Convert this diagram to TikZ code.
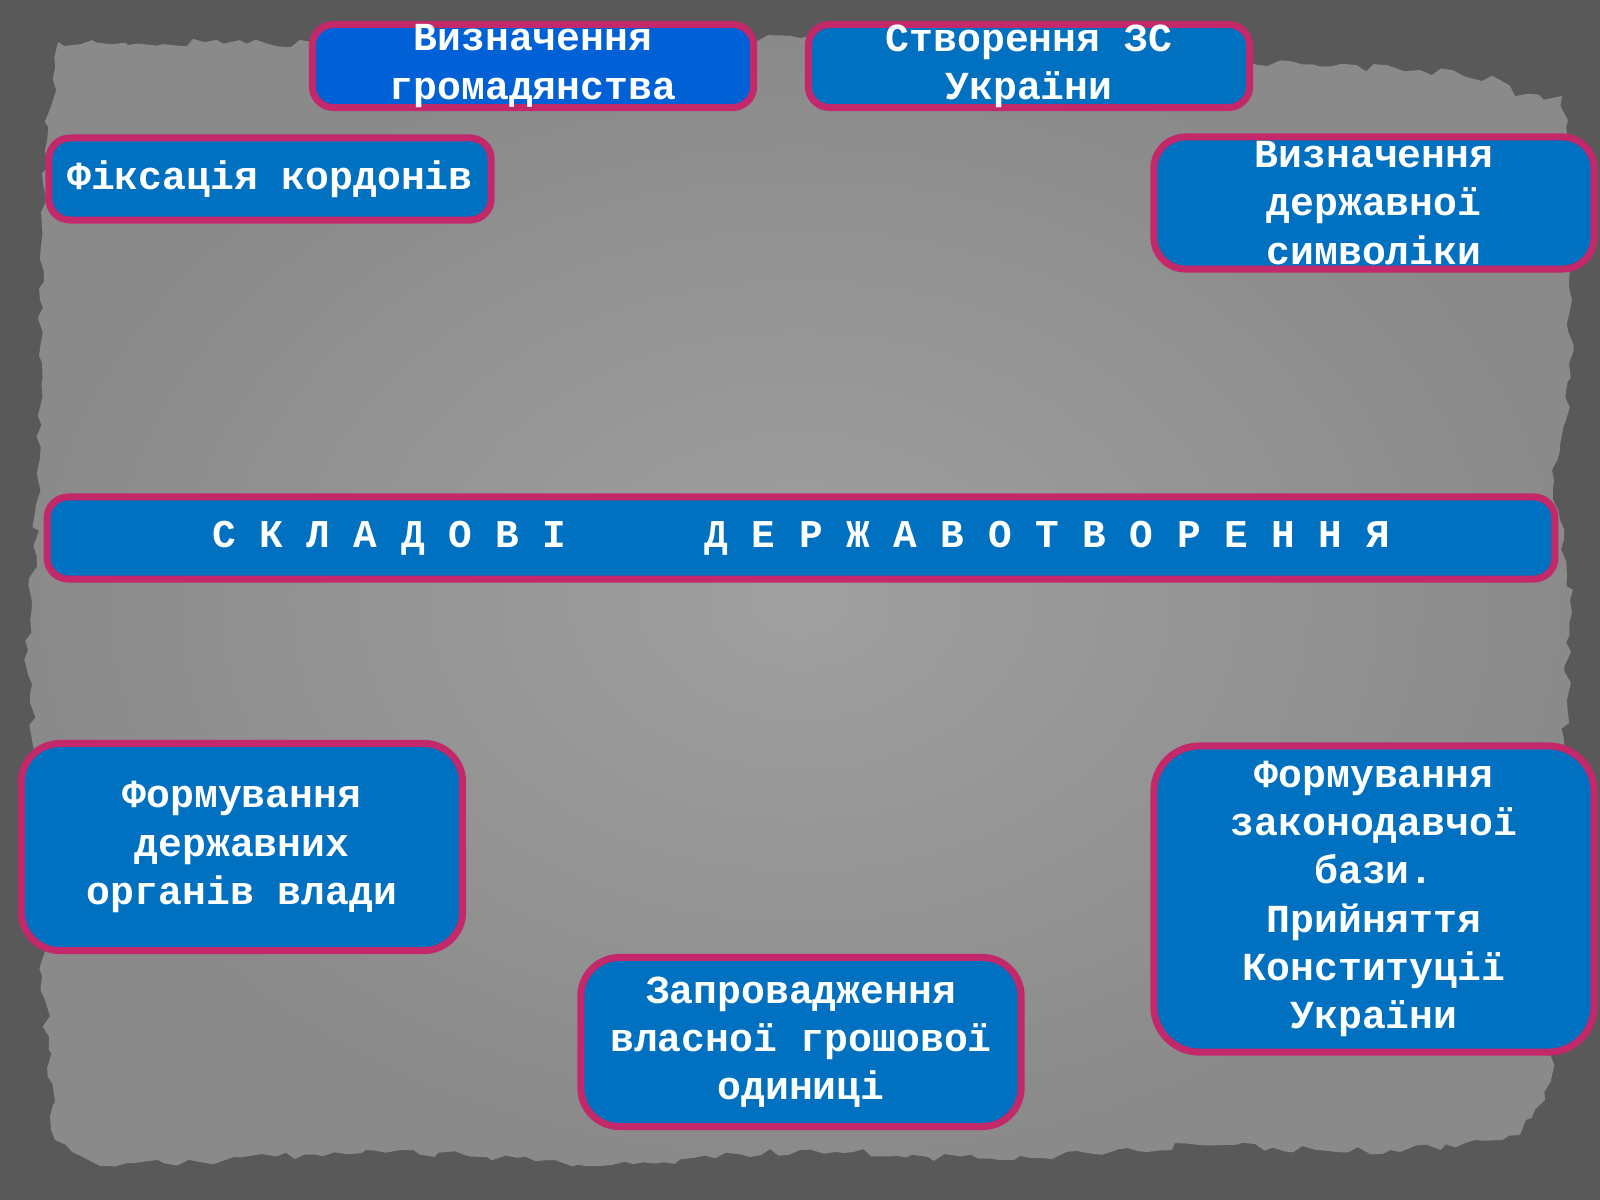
\documentclass[tikz,border=0pt]{standalone}
\usepackage{fontspec}
\setmainfont{Liberation Mono}
\usepackage{tikz}
\usetikzlibrary{positioning,decorations.pathmorphing}
\definecolor{outerbg}{HTML}{595959}
\definecolor{paperlight}{HTML}{A0A0A0}
\definecolor{paperdark}{HTML}{8A8A8A}
\definecolor{boxblue}{HTML}{0070C0}
\definecolor{boxbright}{HTML}{0060D6}
\definecolor{boxrim}{HTML}{C2286A}

\begin{document}
\begin{tikzpicture}[x=0.01cm, y=-0.01cm,
  stage/.style={draw=boxrim, line width=2pt, fill=boxblue, text=white, align=center,
    inner sep=0pt, font=\bfseries\fontsize{11.3}{13.7}\selectfont},
  title/.style={stage, font=\bfseries\fontsize{11.2}{13.7}\selectfont}]
\useasboundingbox (0,0) rectangle (1600,1200);
\fill[outerbg] (0,0) rectangle (1600,1200);
\shade[inner color=paperlight, outer color=paperdark, decorate,
  decoration={random steps, segment length=3pt, amplitude=1.2pt}]
  (58,42) -- (400,44) -- (800,38) -- (1250,62) -- (1420,70) -- (1500,80) -- (1515,96)
  -- (1562,96) -- (1570,200) -- (1572,300) -- (1566,420) -- (1552,470) -- (1560,520)
  -- (1570,600) -- (1567,700) -- (1560,800) -- (1565,900) -- (1560,1000) -- (1545,1100)
  -- (1520,1135) -- (1400,1152) -- (1200,1145) -- (1000,1160) -- (800,1150) -- (600,1166)
  -- (400,1150) -- (200,1162) -- (100,1166) -- (55,1140) -- (45,1000) -- (35,800)
  -- (28,650) -- (38,480) -- (40,300) -- (45,150) -- cycle;

\node[stage, fill=boxbright, minimum width=4.41cm, minimum height=0.83cm, rounded corners=6pt]
  (citizen) at (533,66) {Визначення\\громадянства};
\node[stage, minimum width=4.41cm, minimum height=0.83cm, rounded corners=6pt]
  (army) at (1029,66) {Створення ЗС\\України};
\node[stage, minimum width=4.42cm, minimum height=0.82cm, rounded corners=6pt]
  (border) at (270,179) {Фіксація кордонів};
\node[stage, minimum width=4.40cm, minimum height=1.32cm, rounded corners=9pt]
  (symbols) at (1374,203) {Визначення\\державної\\символіки};
\node[title, minimum width=15.07cm, minimum height=0.82cm, rounded corners=6pt]
  (title) at (801,538) {С К Л А Д О В І\hspace{3.5em}Д Е Р Ж А В О Т В О Р Е Н Н Я};
\node[stage, minimum width=4.41cm, minimum height=2.07cm, rounded corners=11pt]
  (organs) at (242,847) {Формування\\державних\\органів влади};
\node[stage, minimum width=4.40cm, minimum height=1.69cm, rounded corners=11pt]
  (currency) at (801,1042) {Запровадження\\власної грошової\\одиниці};
\node[stage, minimum width=4.40cm, minimum height=3.06cm, rounded corners=13pt]
  (laws) at (1374,899) {Формування\\законодавчої\\бази.\\Прийняття\\Конституції\\України};
\end{tikzpicture}
\end{document}
